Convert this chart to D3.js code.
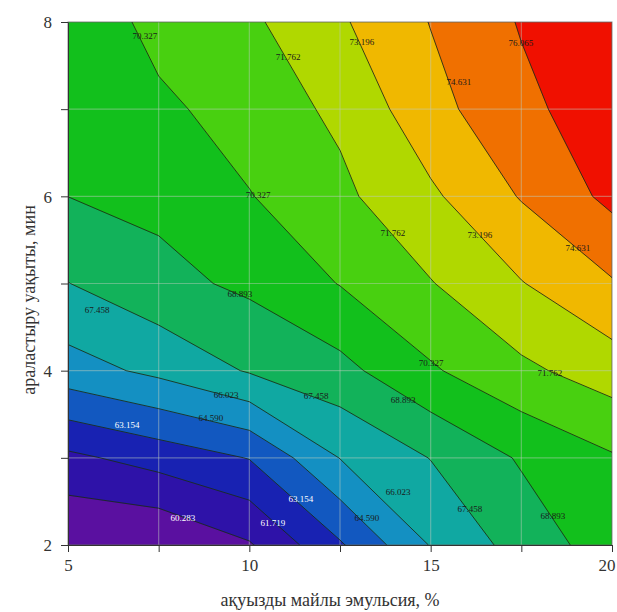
<!DOCTYPE html>
<html><head><meta charset="utf-8">
<script src="https://cdn.jsdelivr.net/npm/d3@7"></script>
<style>body{margin:0;background:#fff}</style>
</head><body><svg id="c" width="617" height="612"></svg>
<script>
// grid nodes (x: emulsion %, y: mixing time, min)
const xValues = [5, 7.5, 10, 12.5, 15, 17.5, 20];
const yValues = [2, 3, 4, 5, 6, 7, 8];
// one row per y value (bottom to top), values at xValues
const zY2 = [58.79, 58.81, 60.14, 62.98, 66.10, 68.04, 69.62];
const zY3 = [61.40, 62.30, 63.21, 66.06, 67.50, 69.05, 70.18];
const zY4 = [65.42, 66.36, 67.58, 68.45, 70.15, 71.46, 72.47];
const zY5 = [67.43, 68.46, 69.18, 70.38, 71.69, 73.13, 74.50];
const zY6 = [68.90, 69.25, 70.26, 71.45, 72.95, 74.73, 76.43];
const zY7 = [69.00, 70.00, 71.00, 72.04, 74.15, 75.71, 76.90];
const zY8 = [69.05, 70.86, 71.50, 73.01, 74.68, 76.17, 77.30];
const levels = [60.283, 61.719, 63.154, 64.590, 66.023, 67.458, 68.893, 70.327, 71.762, 73.196, 74.631, 76.065];
const bandColors = ["#5a10a0", "#2e12a8", "#1822b2", "#1258c0", "#1490c2", "#10a8a2", "#12b25a", "#12c01c", "#48d010", "#b0d800", "#f0b800", "#f07000", "#f01000"];
const labelX = [7.12, 11.07, 13.1, 17.49, 15.78, 10.24, 9.74, 13.96, 16.36, 19.06, 5.8, 15.01, 18.29, 9.36, 11.84, 14.24, 6.63, 8.94, 11.42, 8.17, 10.65, 14.1, 13.24, 16.08, 18.37];
const labelY = [7.84, 7.6, 7.77, 7.76, 7.31, 6.02, 4.88, 5.58, 5.56, 5.41, 4.7, 4.09, 3.97, 3.72, 3.71, 3.66, 3.38, 3.46, 2.53, 2.31, 2.25, 2.61, 2.31, 2.42, 2.34];
const labelText = ["70.327", "71.762", "73.196", "76.065", "74.631", "70.327", "68.893", "71.762", "73.196", "74.631", "67.458", "70.327", "71.762", "66.023", "67.458", "68.893", "63.154", "64.590", "63.154", "60.283", "61.719", "66.023", "64.590", "67.458", "68.893"];
const xTickValues = [5, 7.5, 10, 12.5, 15, 17.5, 20];
const yTickValues = [2, 3, 4, 5, 6, 7, 8];
const xLabelTicks = [5, 10, 15, 20];
const yLabelTicks = [2, 4, 6, 8];
const xTitle = "ақуызды майлы эмульсия, %";
const yTitle = "араластыру уақыты, мин";

const W = 617, H = 612;
const m = {l: 68, r: 5, t: 22, b: 67};
const svg = d3.select("#c");
const x = d3.scaleLinear().domain([5, 20]).range([m.l, W - m.r]);
const y = d3.scaleLinear().domain([2, 8]).range([H - m.b, m.t]);

const nx = xValues.length, ny = yValues.length;
const rows = [zY2, zY3, zY4, zY5, zY6, zY7, zY8];
const values = [].concat(...rows);
const dx = (xValues[nx-1] - xValues[0]) / (nx - 1);
const dy = (yValues[ny-1] - yValues[0]) / (ny - 1);
const proj = d3.geoTransform({
  point: function(gx, gy) {
    this.stream.point(x(xValues[0] + (gx - 0.5) * dx), y(yValues[0] + (gy - 0.5) * dy));
  }
});
const path = d3.geoPath(proj);
const contours = d3.contours().size([nx, ny]).thresholds(levels)(values);

svg.append("clipPath").attr("id", "clip").append("rect")
  .attr("x", x(5)).attr("y", y(8)).attr("width", x(20) - x(5)).attr("height", y(2) - y(8));
const g = svg.append("g").attr("clip-path", "url(#clip)");
g.append("rect").attr("x", x(5)).attr("y", y(8)).attr("width", x(20) - x(5)).attr("height", y(2) - y(8))
  .attr("fill", bandColors[0]);
g.selectAll("path.band").data(contours).join("path").attr("class", "band")
  .attr("d", path).attr("fill", (d, i) => bandColors[i + 1]).attr("stroke", (d, i) => bandColors[i + 1]).attr("stroke-width", 0.5);
// grid lines
g.selectAll("line.gx").data(xTickValues).join("line").attr("class", "gx")
  .attr("x1", d => x(d)).attr("x2", d => x(d)).attr("y1", y(2)).attr("y2", y(8))
  .attr("stroke", "rgba(190,205,190,0.45)").attr("stroke-width", 1.2);
g.selectAll("line.gy").data(yTickValues).join("line").attr("class", "gy")
  .attr("y1", d => y(d)).attr("y2", d => y(d)).attr("x1", x(5)).attr("x2", x(20))
  .attr("stroke", "rgba(190,205,190,0.45)").attr("stroke-width", 1.2);
g.selectAll("path.line").data(contours).join("path").attr("class", "line")
  .attr("d", path).attr("fill", "none").attr("stroke", "#1c2a18").attr("stroke-width", 1).attr("stroke-opacity", 0.85);

// labels
const lab = labelText.map((t, i) => ({t, x: labelX[i], y: labelY[i]}));
g.selectAll("text.lab").data(lab).join("text").attr("class", "lab")
  .attr("x", d => x(d.x)).attr("y", d => y(d.y)).attr("dy", "0.35em")
  .attr("text-anchor", "middle").attr("font-family", "Liberation Serif, serif").attr("font-size", 9)
  .attr("fill", d => (+d.t < 63.5 ? "#ffffff" : "#1a1a1a")).text(d => d.t);

// frame
svg.append("rect").attr("x", x(5)).attr("y", y(8)).attr("width", x(20) - x(5)).attr("height", y(2) - y(8))
  .attr("fill", "none").attr("stroke", "rgba(40,40,40,0.55)").attr("stroke-width", 1);

// axes
const xa = svg.append("g").attr("transform", `translate(0,${y(2)})`)
  .call(d3.axisBottom(x).tickValues(xTickValues).tickSize(7).tickSizeOuter(0)
    .tickFormat(d => xLabelTicks.includes(d) ? d3.format("d")(d) : ""));
const ya = svg.append("g").attr("transform", `translate(${x(5)},0)`)
  .call(d3.axisLeft(y).tickValues(yTickValues).tickSize(7).tickSizeOuter(0)
    .tickFormat(d => yLabelTicks.includes(d) ? d3.format("d")(d) : ""));
[xa, ya].forEach(a => {
  a.select(".domain").attr("stroke", "#333");
  a.selectAll(".tick line").attr("stroke", "#333");
  a.selectAll(".tick text").attr("font-family", "Liberation Serif, serif").attr("font-size", 17).attr("fill", "#333");
});
xa.selectAll(".tick text").attr("y", 14).attr("dy", "0.71em")
  .attr("text-anchor", d => d === 20 ? "end" : "middle").attr("dx", d => d === 20 ? 3 : 0);
ya.selectAll(".tick text").attr("x", -16).attr("dy", "0.35em");

svg.append("text").attr("x", 330).attr("y", 606).attr("text-anchor", "middle")
  .attr("font-family", "Liberation Serif, serif").attr("font-size", 18).attr("fill", "#333").text(xTitle);
svg.append("text").attr("transform", "translate(35,300) rotate(-90)").attr("text-anchor", "middle")
  .attr("font-family", "Liberation Serif, serif").attr("font-size", 18).attr("fill", "#333").text(yTitle);
</script></body></html>
